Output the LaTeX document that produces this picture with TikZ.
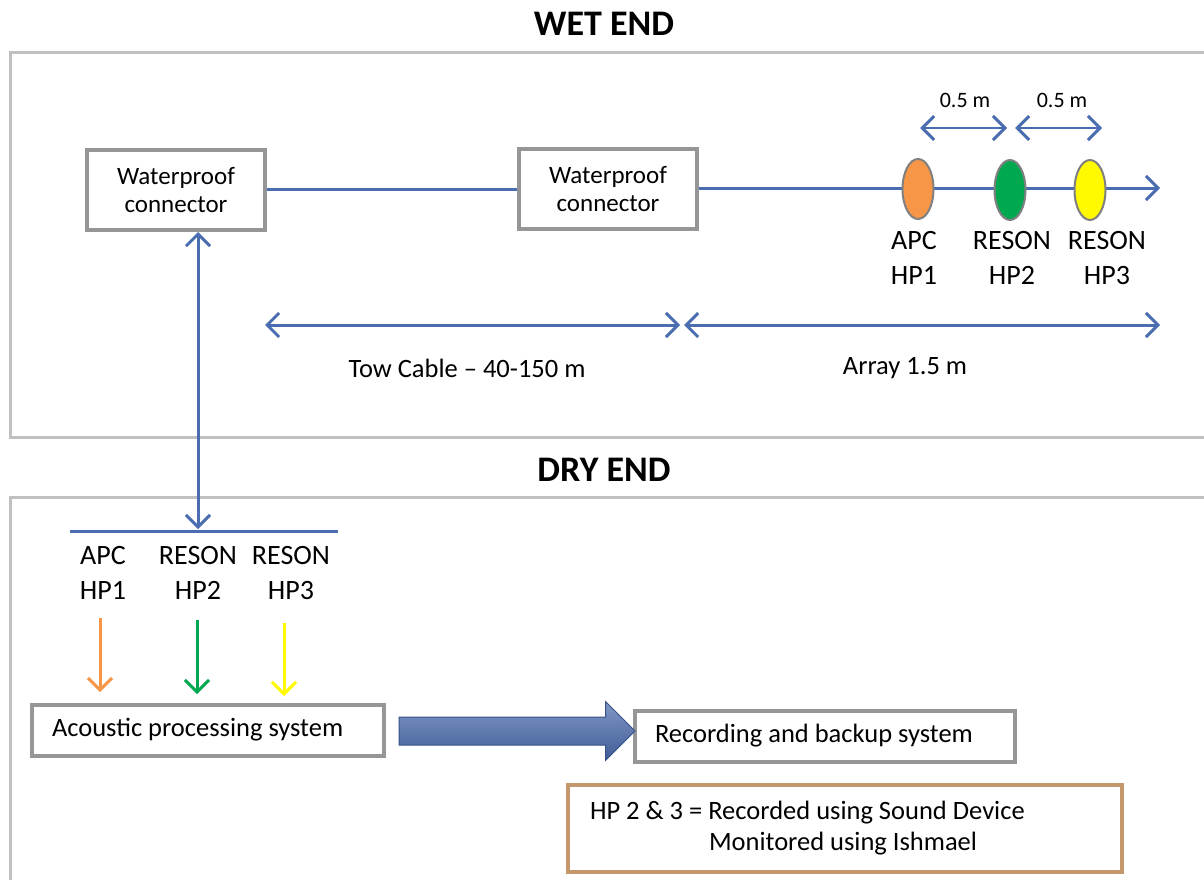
\documentclass[tikz,border=0pt]{standalone}
\usepackage{fontspec}
\setmainfont{Carlito}
\usetikzlibrary{arrows.meta,shapes.geometric,shapes.arrows}
\definecolor{cableblue}{RGB}{74,108,176}
\definecolor{framegray}{RGB}{192,192,192}
\definecolor{boxgray}{RGB}{150,150,150}
\definecolor{apcorange}{RGB}{247,150,70}
\definecolor{resongreen}{RGB}{0,168,80}
\definecolor{resonyellow}{RGB}{255,250,0}
\definecolor{notetan}{RGB}{196,152,108}
\tikzset{barb/.tip={Straight Barb[length=12pt,width=24pt,line width=3pt]}}
\begin{document}
\begin{tikzpicture}[x=1pt, y=-1pt,
  frame/.style={draw=framegray, line width=3pt},
  title/.style={font=\fontsize{36}{40}\selectfont\bfseries},
  wpbox/.style={draw=boxgray, line width=4pt, minimum width=178, minimum height=80, align=center,
    font=\fontsize{25}{28}\selectfont},
  sysbox/.style={draw=boxgray, line width=4pt, minimum height=51, inner xsep=20pt, anchor=west,
    font=\fontsize{26.5}{30}\selectfont},
  cable/.style={draw=cableblue, line width=3pt},
  dim/.style={cable, {barb}-{barb}},
  hydro/.style={ellipse, draw=gray, line width=2pt, minimum width=31, minimum height=60, inner sep=0},
  lbl/.style={align=center, font=\fontsize{28}{35}\selectfont},
  dimlbl/.style={font=\fontsize{26.5}{30}\selectfont},
  feed/.style={line width=3pt, -{barb}}]
\useasboundingbox (0,0) rectangle (1204,880);
\fill[white] (0,0) rectangle (1204,880);

% wet end
\node[title] (wettitle) at (604,24) {WET END};
\draw[frame] (1215,53) -- (10,53) -- (10,437) -- (1215,437);

\node[wpbox] (wp1) at (176,190) {Waterproof\\connector};
\node[wpbox] (wp2) at (608,189) {Waterproof\\connector};
\coordinate (cabletip) at (1160,188);
\draw[cable] (wp1.east |- 0,189) -- (wp2.west |- 0,189);
\draw[cable, -{barb}] (wp2.east |- 0,188) -- (cabletip);

\node[hydro, fill=apcorange] (hp1) at (918,189) {};
\node[hydro, fill=resongreen] (hp2) at (1010,190) {};
\node[hydro, fill=resonyellow] (hp3) at (1090,190) {};
\node[lbl] (hp1lbl) at (914,258) {APC\\HP1};
\node[lbl] (hp2lbl) at (1012,258) {RESON\\HP2};
\node[lbl] (hp3lbl) at (1107,258) {RESON\\HP3};

\coordinate (sp1a) at (920,128);
\coordinate (sp1b) at (1007,128);
\coordinate (sp2a) at (1015,128);
\coordinate (sp2b) at (1102,128);
\draw[dim, line width=2pt] (sp1a) -- (sp1b);
\draw[dim, line width=2pt] (sp2a) -- (sp2b);
\node[font=\fontsize{22}{26}\selectfont] (sp1lbl) at (965,100) {0.5 m};
\node[font=\fontsize{22}{26}\selectfont] (sp2lbl) at (1062,100) {0.5 m};

\coordinate (towa) at (265,325);
\coordinate (towb) at (680,325);
\coordinate (arra) at (684,325);
\coordinate (arrb) at (1160,325);
\draw[dim] (towa) -- (towb);
\draw[dim] (arra) -- (arrb);
\node[dimlbl] (towlbl) at (467,368) {Tow Cable -- 40-150 m};
\node[dimlbl] (arrlbl) at (905,368) {Array 1.5 m};

% dry end
\node[title] (drytitle) at (604,470) {DRY END};
\draw[frame] (1215,497) -- (10,497) -- (10,890);

\coordinate (busl) at (70,531);
\coordinate (busr) at (338,531);
\coordinate (vbot) at (198,529);
\draw[cable] (busl) -- (busr);
\draw[dim] (wp1.south -| vbot) -- (vbot);

\node[lbl] (dhp1) at (103,573) {APC\\HP1};
\node[lbl] (dhp2) at (198,573) {RESON\\HP2};
\node[lbl] (dhp3) at (291,573) {RESON\\HP3};

\node[sysbox] (aps) at (30,730) {\makebox[312pt][l]{Acoustic processing system}};
\node[sysbox] (rbs) at (633,736) {\makebox[340pt][l]{Recording and backup system}};

\draw[feed, apcorange] (100,618) -- (100,692);
\draw[feed, resongreen] (197,620) -- (197,694);
\draw[feed, resonyellow] (284,623) -- (284,696);

\node[single arrow, draw=cableblue!75!black, line width=1pt, top color=cableblue!70!white,
  bottom color=cableblue!85!black, minimum height=236, minimum width=58,
  single arrow head extend=15.5, inner sep=0, text height=27, text depth=0]
  (bigarrow) at (510,731) {};

\node[draw=notetan, line width=4pt, minimum width=554, minimum height=87,
  inner xsep=22, font=\fontsize{26.5}{31}\selectfont] (note) at (845,828.5)
  {\parbox{510pt}{\raggedright HP 2 \& 3 = Recorded using Sound Device\\\hspace*{119pt}Monitored using Ishmael}};
\end{tikzpicture}
\end{document}
